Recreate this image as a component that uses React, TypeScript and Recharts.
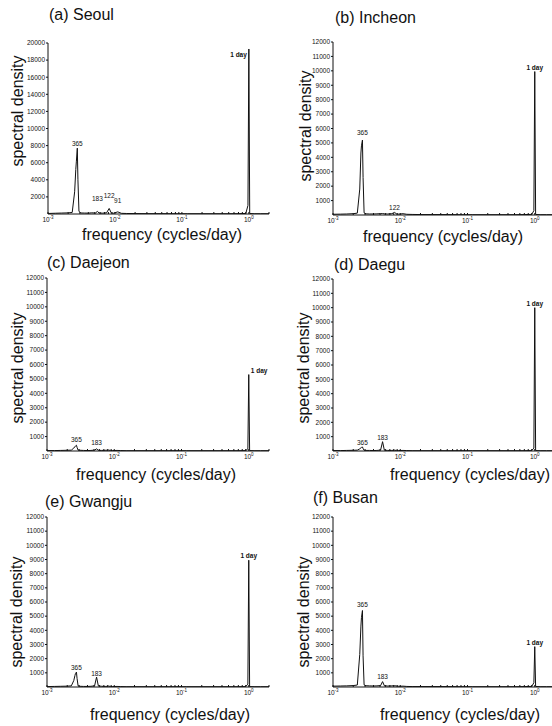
import React from "react";
import {
  LineChart,
  Line,
  XAxis,
  YAxis,
  ReferenceDot,
} from "recharts";

// frequency grid (cycles/day), shared by all stations
const freq = [
  0.001, 0.0013, 0.0016, 0.002, 0.0023, 0.0025, 0.0026, 0.00265, 0.00274, 0.0028,
  0.0029, 0.0031, 0.0035, 0.004, 0.0045, 0.0051, 0.00546, 0.0058, 0.0065, 0.0075,
  0.0082, 0.0088, 0.0095, 0.011, 0.0125, 0.015, 0.02, 0.03, 0.05, 0.08,
  0.12, 0.2, 0.3, 0.5, 0.7, 0.9, 0.97, 1.0, 1.03, 1.2,
  1.5, 2.0,
];

const seoulDensity = [
  60, 90, 110, 130, 180, 2600, 5200, 6100, 7700, 4000,
  300, 120, 110, 100, 140, 110, 300, 120, 100, 140,
  650, 130, 90, 250, 80, 60, 50, 40, 40, 30,
  30, 30, 30, 30, 40, 60, 1000, 19300, 60, 30,
  30, 30,
];
const incheonDensity = [
  50, 60, 70, 90, 130, 1800, 4300, 4800, 5200, 2600,
  150, 80, 70, 70, 80, 90, 100, 80, 70, 90,
  180, 80, 60, 90, 50, 40, 30, 30, 30, 20,
  20, 20, 20, 20, 30, 40, 300, 9950, 40, 20,
  20, 20,
];
const daejeonDensity = [
  30, 30, 40, 50, 60, 200, 300, 350, 400, 250,
  60, 50, 40, 30, 40, 60, 150, 50, 40, 50,
  60, 40, 30, 40, 30, 20, 20, 20, 20, 20,
  20, 20, 20, 20, 20, 30, 150, 5300, 30, 20,
  20, 20,
];
const daeguDensity = [
  30, 30, 40, 50, 60, 150, 220, 250, 280, 180,
  50, 40, 40, 30, 40, 60, 650, 60, 40, 40,
  50, 40, 30, 40, 30, 20, 20, 20, 20, 20,
  20, 20, 20, 20, 20, 30, 200, 10000, 30, 20,
  20, 20,
];
const gwangjuDensity = [
  30, 40, 50, 60, 80, 450, 800, 950, 1050, 600,
  80, 50, 40, 40, 50, 80, 700, 80, 50, 40,
  60, 40, 30, 40, 30, 20, 20, 20, 20, 20,
  20, 20, 20, 20, 20, 30, 200, 8950, 30, 20,
  20, 20,
];
const busanDensity = [
  60, 70, 80, 100, 140, 2300, 4300, 4900, 5400, 2200,
  150, 90, 80, 70, 80, 100, 380, 90, 70, 80,
  90, 70, 50, 60, 40, 30, 30, 30, 30, 20,
  20, 20, 20, 20, 30, 40, 300, 2850, 40, 20,
  20, 20,
];

// peak annotations (period labels)
const seoulPeaks = [
  { f: 0.00274, v: 7700, text: "365" },
  { f: 0.00546, v: 1230, text: "183" },
  { f: 0.0082, v: 1580, text: "122" },
  { f: 0.011, v: 1110, text: "91" },
  { f: 1, v: 19300, text: "1 day" },
];
const incheonPeaks = [
  { f: 0.00274, v: 5380, text: "365" },
  { f: 0.0082, v: 240, text: "122" },
  { f: 1, v: 9950, text: "1 day" },
];
const daejeonPeaks = [
  { f: 0.00274, v: 520, text: "365" },
  { f: 0.00546, v: 310, text: "183" },
  { f: 1, v: 5300, text: "1 day" },
];
const daeguPeaks = [
  { f: 0.00274, v: 310, text: "365" },
  { f: 0.00546, v: 660, text: "183" },
  { f: 1, v: 10000, text: "1 day" },
];
const gwangjuPeaks = [
  { f: 0.00274, v: 1090, text: "365" },
  { f: 0.00546, v: 670, text: "183" },
  { f: 1, v: 8950, text: "1 day" },
];
const busanPeaks = [
  { f: 0.00274, v: 5540, text: "365" },
  { f: 0.00546, v: 390, text: "183" },
  { f: 1, v: 2850, text: "1 day" },
];

const xTicks = [0.001, 0.01, 0.1, 1];
const xTickExp = ["-3", "-2", "-1", "0"];
const minorTicks = [
  0.001, 0.002, 0.003, 0.004, 0.005, 0.006, 0.007, 0.008, 0.009,
  0.01, 0.02, 0.03, 0.04, 0.05, 0.06, 0.07, 0.08, 0.09,
  0.1, 0.2, 0.3, 0.4, 0.5, 0.6, 0.7, 0.8, 0.9,
  1, 2,
];
const yTicks20k = [2000, 4000, 6000, 8000, 10000, 12000, 14000, 16000, 18000, 20000];
const yTicks12k = [1000, 2000, 3000, 4000, 5000, 6000, 7000, 8000, 9000, 10000, 11000, 12000];

const FONT = "'Liberation Sans', Arial, sans-serif";
const YW = 40;
const TOP = 6;

const XTick = (props: any) => {
  const { x, y, payload } = props;
  const i = xTicks.indexOf(payload.value);
  return (
    <text x={x} y={y + 8} textAnchor="middle" fontSize={6.5} fill="#111" fontFamily={FONT}>
      10
      <tspan dy={-3} fontSize={4.5}>{xTickExp[i]}</tspan>
    </text>
  );
};

const NoTick = () => <g />;

type Mark = { f: number; v: number; text: string };

const Panel = ({ title, values, peaks, ymax, yTicks, box, titlePos, yLabelPos, xLabelPos, daySide }: any) => {
  const data = freq.map((f, i) => ({ f, v: values[i] }));
  const w = box.r - box.l + YW + 2;
  const h = box.b - box.t + 20 + TOP;
  return (
    <>
      <div style={{ position: "absolute", left: titlePos[0], top: titlePos[1] - 8, fontSize: 16, lineHeight: "16px", fontFamily: FONT, whiteSpace: "nowrap", color: "#111" }}>
        {title}
      </div>
      <div style={{ position: "absolute", left: yLabelPos[0] - 100, top: yLabelPos[1] - 8, width: 200, height: 16, fontSize: 16, lineHeight: "16px", fontFamily: FONT, textAlign: "center", transform: "rotate(-90deg)", color: "#111" }}>
        spectral density
      </div>
      <div style={{ position: "absolute", left: xLabelPos[0] - 120, top: xLabelPos[1] - 8, width: 240, height: 16, fontSize: 16, lineHeight: "16px", fontFamily: FONT, textAlign: "center", color: "#111" }}>
        frequency (cycles/day)
      </div>
      <div style={{ position: "absolute", left: box.l - YW, top: box.t - TOP }}>
        <LineChart width={w} height={h} data={data} margin={{ top: TOP, right: 2, bottom: 0, left: 0 }}>
          <XAxis xAxisId="b" dataKey="f" type="number" scale="log" domain={[0.001, 2]} ticks={xTicks} interval={0}
            height={20} tickLine={false} tickSize={0} tickMargin={0} tick={<XTick />} stroke="#111" allowDataOverflow />
          <XAxis xAxisId="bm" dataKey="f" type="number" scale="log" domain={[0.001, 2]} ticks={minorTicks} interval={0}
            mirror axisLine={false} tickSize={2} tick={NoTick} stroke="#111" allowDataOverflow />
          <XAxis xAxisId="t" orientation="top" dataKey="f" type="number" scale="log" domain={[0.001, 2]} ticks={minorTicks} interval={0}
            mirror height={0} tickSize={2} tick={NoTick} stroke="#111" allowDataOverflow />
          <YAxis yAxisId="l" type="number" domain={[0, ymax]} ticks={yTicks} interval={0} width={YW}
            tickSize={2} tickMargin={1} stroke="#111" tick={{ fontSize: 6.5, fill: "#111", fontFamily: FONT }} allowDataOverflow />
          <YAxis yAxisId="r" orientation="right" type="number" domain={[0, ymax]} ticks={yTicks} interval={0} width={0}
            mirror tickSize={2} tick={NoTick} stroke="#111" allowDataOverflow />
          <Line xAxisId="b" yAxisId="l" type="linear" dataKey="v" stroke="#111" strokeWidth={1} dot={false} isAnimationActive={false} />
          {peaks.map((m: Mark) => {
            const side = m.text === "1 day" ? daySide : "top";
            return (
              <ReferenceDot key={m.text} xAxisId="b" yAxisId="l" x={m.f} y={m.v} r={0}
                shape={(p: any) => {
                  const tx = side === "left" ? p.cx - 2 : side === "right" ? p.cx + 2 : p.cx;
                  const ty = side === "left" ? p.cy + 8 : p.cy - 2;
                  const anchor = side === "left" ? "end" : side === "right" ? "start" : "middle";
                  return (
                    <text x={tx} y={ty} textAnchor={anchor} fontSize={6.5} fill="#111" fontFamily={FONT}
                      fontWeight={m.text === "1 day" ? "bold" : "normal"}>
                      {m.text}
                    </text>
                  );
                }} />
            );
          })}
        </LineChart>
      </div>
    </>
  );
};

export default function App() {
  return (
    <div style={{ position: "absolute", left: 0, top: 0, width: 552, height: 726, overflow: "hidden", background: "#fff" }}>
      <Panel title="(a) Seoul" values={seoulDensity} peaks={seoulPeaks} ymax={20000} yTicks={yTicks20k}
        box={{ l: 48, t: 43, r: 269, b: 214 }} titlePos={[49, 15]} yLabelPos={[18, 111]} xLabelPos={[162, 235]} daySide="left" />
      <Panel title="(b) Incheon" values={incheonDensity} peaks={incheonPeaks} ymax={12000} yTicks={yTicks12k}
        box={{ l: 333, t: 42, r: 555, b: 215 }} titlePos={[335, 18]} yLabelPos={[306, 126]} xLabelPos={[443, 237]} daySide="top" />
      <Panel title="(c) Daejeon" values={daejeonDensity} peaks={daejeonPeaks} ymax={12000} yTicks={yTicks12k}
        box={{ l: 47, t: 278, r: 269, b: 451 }} titlePos={[47, 263]} yLabelPos={[18, 368]} xLabelPos={[156, 475]} daySide="right" />
      <Panel title="(d) Daegu" values={daeguDensity} peaks={daeguPeaks} ymax={12000} yTicks={yTicks12k}
        box={{ l: 333, t: 279, r: 555, b: 451 }} titlePos={[334, 265]} yLabelPos={[304, 368]} xLabelPos={[470, 475]} daySide="top" />
      <Panel title="(e) Gwangju" values={gwangjuDensity} peaks={gwangjuPeaks} ymax={12000} yTicks={yTicks12k}
        box={{ l: 47, t: 517, r: 269, b: 687 }} titlePos={[45, 502]} yLabelPos={[17, 612]} xLabelPos={[170, 715]} daySide="top" />
      <Panel title="(f) Busan" values={busanDensity} peaks={busanPeaks} ymax={12000} yTicks={yTicks12k}
        box={{ l: 333, t: 517, r: 555, b: 687 }} titlePos={[313, 498]} yLabelPos={[304, 612]} xLabelPos={[460, 715]} daySide="top" />
    </div>
  );
}
